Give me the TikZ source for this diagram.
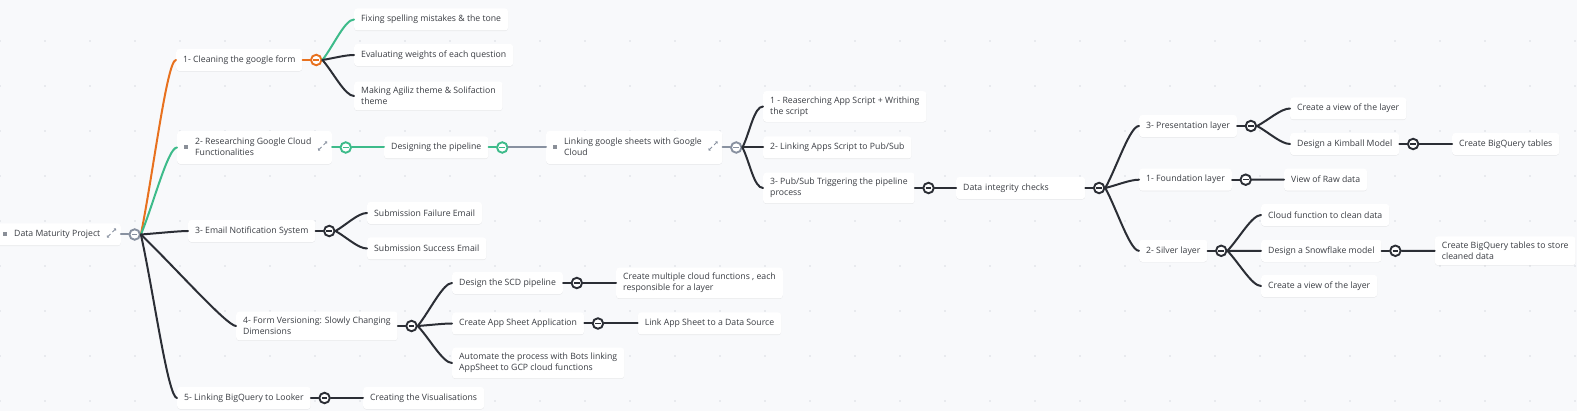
\documentclass[tikz,border=0pt]{standalone}
\usepackage{fontspec}
\setmainfont{Open Sans}
\usetikzlibrary{calc,positioning,shadows,arrows.meta}
\definecolor{bgcol}{HTML}{F8F9FB}
\definecolor{dotcol}{HTML}{E8EAEE}
\definecolor{txtcol}{HTML}{3A3D43}
\definecolor{bulcol}{HTML}{8A8F98}
\definecolor{greycol}{HTML}{8891A0}
\definecolor{orangecol}{HTML}{E8711E}
\definecolor{greencol}{HTML}{3DBB8A}
\definecolor{darkcol}{HTML}{2B2E35}
\newcommand{\topicfont}{\fontsize{8.7}{11}\selectfont}
\newcommand{\grp}[1]{\hspace*{11pt}\begin{tabular}{@{}l@{}}#1\end{tabular}\hspace*{13.5pt}}
\def\branch[#1](#2)(#3){\draw[twig=#1] (#2.east) .. controls ($(#2.east)!0.35!(#3.west)$) and ($(#3.west)+(-9,0)$) .. (#3.west);}
\def\grpmarks(#1){\fill[bulcol] ($(#1.west)+(7,-2)$) rectangle ++(4,4);
	\draw[greycol, line width=0.8pt, -{Straight Barb[length=1.2pt,width=2.6pt]}] ($(#1.east)+(-10.5,-0.5)$) -- ++(-3.5,3.5);
	\draw[greycol, line width=0.8pt, -{Straight Barb[length=1.2pt,width=2.6pt]}] ($(#1.east)+(-8.5,-2.5)$) -- ++(3.5,-3.5);}
\tikzset{
	topic/.style={fill=white, rounded corners=3pt, text=txtcol, font=\topicfont, inner xsep=7pt, inner ysep=5.5pt,
		minimum height=22pt, anchor=west, align=left,
		drop shadow={shadow xshift=0pt, shadow yshift=-0.6pt, opacity=0.07, fill=black}},
	fold/.style={circle, draw=#1, fill=white, line width=1.9pt, minimum size=10.5pt, inner sep=0pt,
		path picture={\draw[#1, line width=1.5pt] ([xshift=-2.8pt]path picture bounding box.center) -- ([xshift=2.8pt]path picture bounding box.center);}},
	twig/.style={draw=#1, line width=2pt, line cap=round},
}
\begin{document}
\begin{tikzpicture}[x=1pt, y=-1pt]
			%%%%% START %%%%%
			
			\fill[bgcol] (0,0) rectangle (1577,411);
			\useasboundingbox (0,0) rectangle (1577,411);
			\foreach \i in {0,...,35}
				\foreach \j in {0,...,8}
					\fill[dotcol] (\i*45-0.9, 41+\j*45-0.9) rectangle ++(1.8,1.8);
			
			% root
			\node[topic] (root) at (-4,234.5) {\grp{Data Maturity Project}};
			\node[fold=greycol, right=7.5pt of root] (f0) {};
			
			% 1- cleaning
			\node[topic] (clean) at (176,60) {1- Cleaning the google form};
			\node[fold=orangecol, right=7.5pt of clean] (f1) {};
			\node[topic] (spell) at (354,19.5) {Fixing spelling mistakes \& the tone};
			\node[topic] (weights) at (354,55) {Evaluating weights of each question};
			\node[topic] (theme) at (354,96) {Making Agiliz theme \& Solifaction\\theme};
			
			% 2- google cloud
			\node[topic] (cloud) at (177,147.5) {\grp{2- Researching Google Cloud\\Functionalities}};
			\node[fold=greencol, right=7.5pt of cloud] (f2) {};
			\node[topic] (pipe) at (384,147.5) {Designing the pipeline};
			\node[fold=greencol, right=7.5pt of pipe] (fpipe) {};
			\node[topic] (sheets) at (546,147.5) {\grp{Linking google sheets with Google\\Cloud}};
			\node[fold=greycol, right=7.5pt of sheets] (fsheets) {};
			\node[topic] (script) at (763,106.5) {1 - Reaserching App Script + Writhing\\the script};
			\node[topic] (pubsub) at (763,147.5) {2- Linking Apps Script to Pub/Sub};
			\node[topic] (trigger) at (763,188) {3- Pub/Sub Triggering the pipeline\\process};
			\node[fold=darkcol, right=7.5pt of trigger] (ftrigger) {};
			\node[topic, text width=115pt] (checks) at (956,188) {Data integrity checks};
			\node[fold=darkcol, right=7.5pt of checks] (fchecks) {};
			
			\node[topic] (present) at (1139,126) {3- Presentation layer};
			\node[fold=darkcol, right=7.5pt of present] (fpresent) {};
			\node[topic] (pview) at (1290,108.5) {Create a view of the layer};
			\node[topic] (kimball) at (1290,144) {Design a Kimball Model};
			\node[fold=darkcol, right=7.5pt of kimball] (fkimball) {};
			\node[topic] (bqa) at (1452,144) {Create BigQuery tables};
			
			\node[topic] (found) at (1139,179.7) {1- Foundation layer};
			\node[fold=darkcol, right=7.5pt of found] (ffound) {};
			\node[topic] (raw) at (1284,179.7) {View of Raw data};
			
			\node[topic] (silver) at (1139,250.8) {2- Silver layer};
			\node[fold=darkcol, right=7.5pt of silver] (fsilver) {};
			\node[topic] (cfun) at (1261,215) {Cloud function to clean data};
			\node[topic] (snow) at (1261,250.8) {Design a Snowflake model};
			\node[fold=darkcol, right=7.5pt of snow] (fsnow) {};
			\node[topic] (bqb) at (1434.7,250.8) {Create BigQuery tables to store\\cleaned data};
			\node[topic] (sview) at (1261,286) {Create a view of the layer};
			
			% 3- email
			\node[topic] (email) at (188,231) {3- Email Notification System};
			\node[fold=darkcol, right=7.5pt of email] (f3) {};
			\node[topic] (fail) at (367,213) {Submission Failure Email};
			\node[topic] (succ) at (367,248.5) {Submission Success Email};
			
			% 4- versioning
			\node[topic] (version) at (236,326) {4- Form Versioning: Slowly Changing\\Dimensions};
			\node[fold=darkcol, right=7.5pt of version] (f4) {};
			\node[topic] (scd) at (452,283) {Design the SCD pipeline};
			\node[fold=darkcol, right=7.5pt of scd] (fscd) {};
			\node[topic] (multi) at (616,283) {Create multiple cloud functions , each\\responsible for a layer};
			\node[topic] (appsheet) at (452,323.5) {Create App Sheet Application};
			\node[fold=darkcol, right=7.5pt of appsheet] (fapp) {};
			\node[topic] (source) at (637.7,323.5) {Link App Sheet to a Data Source};
			\node[topic] (bots) at (452,363) {Automate the process with Bots linking\\AppSheet to GCP cloud functions};
			
			% 5- looker
			\node[topic] (looker) at (177,398) {5- Linking BigQuery to Looker};
			\node[fold=darkcol, right=7.5pt of looker] (f5) {};
			\node[topic] (visual) at (363,398) {Creating the Visualisations};
			
			\grpmarks(root)
			\grpmarks(cloud)
			\grpmarks(sheets)
			
			% connectors
			\draw[twig=greycol] (root) -- (f0);
			\branch[orangecol](f0)(clean)
			\branch[greencol](f0)(cloud)
			\branch[darkcol](f0)(email)
			\branch[darkcol](f0)(version)
			\branch[darkcol](f0)(looker)
			
			\draw[twig=orangecol] (clean) -- (f1);
			\branch[greencol](f1)(spell)
			\branch[darkcol](f1)(weights)
			\branch[darkcol](f1)(theme)
			
			\draw[twig=greencol] (cloud) -- (f2);
			\branch[greencol](f2)(pipe)
			\draw[twig=greencol] (pipe) -- (fpipe);
			\branch[greycol](fpipe)(sheets)
			\draw[twig=greycol] (sheets) -- (fsheets);
			\branch[darkcol](fsheets)(script)
			\branch[darkcol](fsheets)(pubsub)
			\branch[darkcol](fsheets)(trigger)
			\draw[twig=darkcol] (trigger) -- (ftrigger);
			\branch[darkcol](ftrigger)(checks)
			\draw[twig=darkcol] (checks) -- (fchecks);
			\branch[darkcol](fchecks)(present)
			\branch[darkcol](fchecks)(found)
			\branch[darkcol](fchecks)(silver)
			
			\draw[twig=darkcol] (present) -- (fpresent);
			\branch[darkcol](fpresent)(pview)
			\branch[darkcol](fpresent)(kimball)
			\draw[twig=darkcol] (kimball) -- (fkimball);
			\branch[darkcol](fkimball)(bqa)
			\draw[twig=darkcol] (found) -- (ffound);
			\branch[darkcol](ffound)(raw)
			\draw[twig=darkcol] (silver) -- (fsilver);
			\branch[darkcol](fsilver)(cfun)
			\branch[darkcol](fsilver)(snow)
			\branch[darkcol](fsilver)(sview)
			\draw[twig=darkcol] (snow) -- (fsnow);
			\branch[darkcol](fsnow)(bqb)
			
			\draw[twig=darkcol] (email) -- (f3);
			\branch[darkcol](f3)(fail)
			\branch[darkcol](f3)(succ)
			
			\draw[twig=darkcol] (version) -- (f4);
			\branch[darkcol](f4)(scd)
			\branch[darkcol](f4)(appsheet)
			\branch[darkcol](f4)(bots)
			\draw[twig=darkcol] (scd) -- (fscd);
			\branch[darkcol](fscd)(multi)
			\draw[twig=darkcol] (appsheet) -- (fapp);
			\branch[darkcol](fapp)(source)
			
			\draw[twig=darkcol] (looker) -- (f5);
			\branch[darkcol](f5)(visual)
			
			%%%%% END %%%%%
\end{tikzpicture}
\end{document}
